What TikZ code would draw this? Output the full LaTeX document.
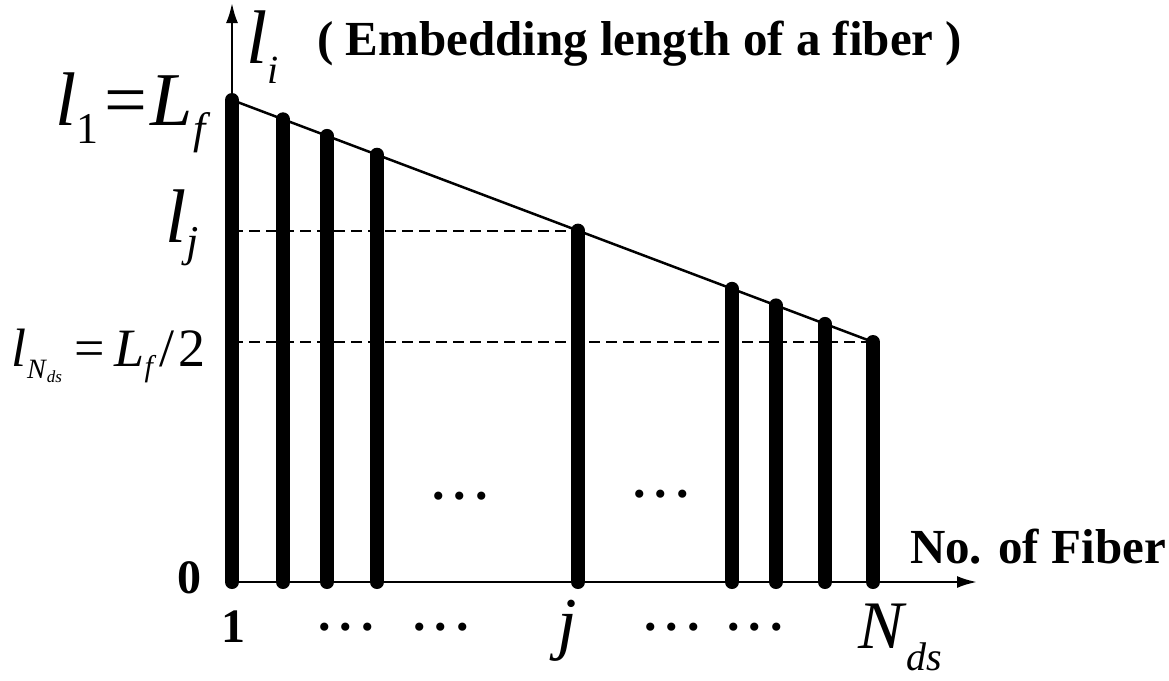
\documentclass[tikz,border=0pt]{standalone}
\usepackage{fontspec}
\setmainfont{Liberation Serif}
\usetikzlibrary{arrows.meta}
\newcommand\fsz[1]{\fontsize{#1}{#1}\selectfont}
\newcommand\lowsub[3]{\raisebox{-#1pt}{\fsz{#2}#3}}
\newcommand\dotsrow{\fsz{50}\bfseries .\hspace{9pt}.\hspace{9pt}.}
\begin{document}
\begin{tikzpicture}[x=1pt,y=-1pt,
  fiber/.style={line width=14pt, line cap=round},
  axis/.style={line width=2.5pt, -{Latex[length=20pt,width=12pt]}},
  guide/.style={line width=2.2pt, dash pattern=on 11pt off 6pt},
  slope/.style={line width=2.5pt},
  lbl/.style={inner sep=0pt, outer sep=0pt}]
\useasboundingbox (0,0) rectangle (1169,680);
% coordinates
\coordinate (o) at (232,582);
\coordinate (ytip) at (232,3);
\coordinate (xtip) at (977,582);
\coordinate (f1) at (232,100);
\coordinate (f2) at (283,119.3);
\coordinate (f3) at (327,135.9);
\coordinate (f4) at (377,154.7);
\coordinate (fj) at (578,230.6);
\coordinate (f6) at (732,288.8);
\coordinate (f7) at (776,305.4);
\coordinate (f8) at (825,323.9);
\coordinate (fN) at (873,342);
% axes
\draw[axis] (o) -- (ytip);
\draw[axis] (o) -- (xtip);
% guides
\draw[guide] (o |- fj) -- (fj);
\draw[guide] (o |- fN) -- (fN);
% fibers
\foreach \f in {f1,f2,f3,f4,fj,f6,f7,f8,fN}
  \draw[fiber] (\f) -- (\f |- o);
\draw[slope] (f1) -- (fN);
% labels
\node[lbl, anchor=base west] (li) at (246,63) {\fsz{76}\textit{l}\lowsub{20}{40}{\textit{i}}};
\node[lbl, anchor=base west] (title) at (317,55) {\fsz{49}\bfseries ( Embedding length of a fiber )};
\node[lbl, anchor=base west] (l1) at (55,125) {\fsz{76}\textit{l}\lowsub{18}{44}{1}\hspace{6pt}=\hspace{4pt}\textit{L}\lowsub{18}{44}{\textit{f}}};
\node[lbl, anchor=base west] (lj) at (165,242) {\fsz{76}\textit{l}\lowsub{14}{44}{\textit{j}}};
\node[lbl, anchor=base west] (lN) at (12,366) {\fsz{54}\textit{l}\lowsub{12}{28}{\textit{N}\lowsub{4}{17}{\textit{ds}}}\hspace{12pt}=\hspace{10pt}\textit{L}\lowsub{10}{30}{\textit{f}}\hspace{3pt}/\hspace{4pt}2};
\node[lbl, anchor=base west] (zero) at (177,593) {\fsz{48}\bfseries 0};
\node[lbl, anchor=base] (one) at (233,642) {\fsz{48}\bfseries 1};
\node[lbl, anchor=base] (jl) at (567,646) {\fsz{70}\textit{j}};
\node[lbl, anchor=base west] (Nds) at (858,648) {\fsz{68}\textit{N}\lowsub{22}{40}{\textit{ds}}};
\node[lbl, anchor=base west] (xlab) at (910,563) {\fsz{49}\bfseries No. of Fiber};
% dots
\node[lbl] (d1) at (346,627) {\dotsrow};
\node[lbl] (d2) at (441,627) {\dotsrow};
\node[lbl] (d3) at (672,627) {\dotsrow};
\node[lbl] (d4) at (755,627) {\dotsrow};
\node[lbl] (d5) at (460,496) {\dotsrow};
\node[lbl] (d6) at (661,494) {\dotsrow};
\end{tikzpicture}
\end{document}
